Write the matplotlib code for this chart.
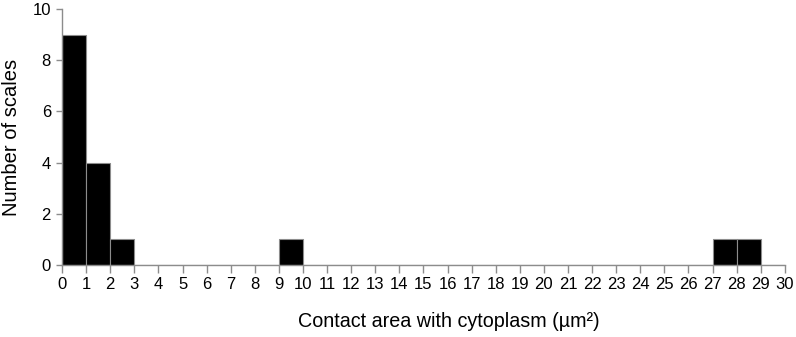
import matplotlib
matplotlib.use('Agg')
import matplotlib.pyplot as plt

# DATA
bin_edges = list(range(0, 31))
counts = [9, 4, 1, 0, 0, 0, 0, 0, 0, 1,
          0, 0, 0, 0, 0, 0, 0, 0, 0, 0,
          0, 0, 0, 0, 0, 0, 0, 1, 1, 0]
y_ticks = [0, 2, 4, 6, 8, 10]

plt.rcParams['font.family'] = ['Liberation Sans', 'DejaVu Sans']

fig = plt.figure(figsize=(7.96, 3.37), dpi=100)
ax = fig.add_axes([0.078, 0.214, 0.908, 0.759])

grey = '#8c8c8c'
ax.bar(bin_edges[:-1], counts, width=1, align='edge', color='black',
       edgecolor=grey, linewidth=0.8)

ax.set_xlim(0, 30)
ax.set_ylim(0, 10)
ax.set_xticks(bin_edges)
ax.set_yticks(y_ticks)
ax.tick_params(axis='both', colors=grey, labelcolor='black',
               width=1, labelsize=12)
ax.tick_params(axis='x', length=6, pad=3)
ax.tick_params(axis='y', length=4, pad=4)

for side in ['top', 'right']:
    ax.spines[side].set_visible(False)
for side in ['left', 'bottom']:
    ax.spines[side].set_color(grey)
    ax.spines[side].set_linewidth(1)

ax.set_ylabel('Number of scales', fontsize=14.5, labelpad=8)
ax.set_xlabel('Contact area with cytoplasm (µm²)', fontsize=14.2, labelpad=14)
# label sits a bit right of the axis centre in the original
ax.xaxis.label.set_x(0.535)

fig.savefig('out.png', dpi=100)
